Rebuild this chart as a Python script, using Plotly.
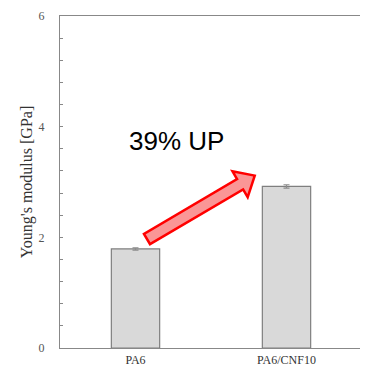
import numpy as np
import plotly.graph_objects as go

categories = ["PA6", "PA6/CNF10"]
modulus = [1.79, 2.92]
modulus_err = [0.02, 0.03]
y_ticks = [0, 2, 4, 6]
annotation_text = "39% UP"

# the page body has an 8px default margin; compensate
OFF = 8
# plot area in page pixels (for converting the arrow geometry)
L, R, T, B = 60, 362, 16, 348
W, H = R - L, B - T


def px_to_data(px, py):
    x = (px - L) / W * 2 - 0.5
    y = (B - py) / H * 6
    return x, y


# arrow geometry (pixels)
tail = np.array([147.0, 239.0])
d = np.array([0.862, -0.507]); d /= np.linalg.norm(d)
n = np.array([-d[1], d[0]])
shaft_len, head_len, shaft_w, head_w = 108, 17, 12, 30
base = tail + d * shaft_len
tip = base + d * head_len
pts = [tail + n * shaft_w / 2, base + n * shaft_w / 2, base + n * head_w / 2, tip,
       base - n * head_w / 2, base - n * shaft_w / 2, tail - n * shaft_w / 2]
path = ""
for i, p in enumerate(pts):
    x, y = px_to_data(*p)
    path += ("M" if i == 0 else "L") + f"{x:.4f},{y:.4f} "
path += "Z"

serif = "Liberation Serif, Times New Roman, serif"

fig = go.Figure()
fig.add_trace(go.Bar(
    x=[0, 1], y=modulus, width=0.32,
    marker=dict(color="#d9d9d9", line=dict(color="#7f7f7f", width=1.2)),
    error_y=dict(type="data", array=modulus_err, color="#8c8c8c", thickness=1.2, width=3),
))

fig.add_shape(type="path", path=path, xref="x", yref="y",
              fillcolor="rgba(250,150,150,1)", line=dict(color="#ff0000", width=2.5))

fig.add_annotation(x=px_to_data(176, 0)[0], y=px_to_data(0, 141)[1], xref="x", yref="y",
                   text=annotation_text, showarrow=False,
                   font=dict(family="Liberation Sans, Arial", size=26, color="black"))

fig.update_layout(
    width=368 - OFF, height=372 - OFF,
    margin=dict(l=L - OFF, r=368 - R, t=T - OFF, b=372 - B),
    plot_bgcolor="white", paper_bgcolor="white",
    showlegend=False,
    xaxis=dict(range=[-0.5, 1.5], tickvals=[0, 1], ticktext=categories,
               showline=True, linecolor="#888888", linewidth=1.2, mirror=True,
               ticks="", showgrid=False, zeroline=False, automargin=False,
               tickfont=dict(family=serif, size=12, color="#333333")),
    yaxis=dict(range=[0, 6], tickvals=y_ticks, ticks="inside", ticklen=3, tickcolor="#888888",
               showline=True, linecolor="#888888", linewidth=1.2, mirror=True,
               showgrid=False, zeroline=False, ticklabelstandoff=12, automargin=False,
               minor=dict(dtick=0.4, ticks="inside", ticklen=3, tickcolor="#888888", showgrid=False),
               tickfont=dict(family=serif, size=12, color="#555555"),
               title=dict(text="Young's modulus [GPa]", standoff=1,
                          font=dict(family=serif, size=16, color="#333333"))),
)

fig.write_html("out.html")
